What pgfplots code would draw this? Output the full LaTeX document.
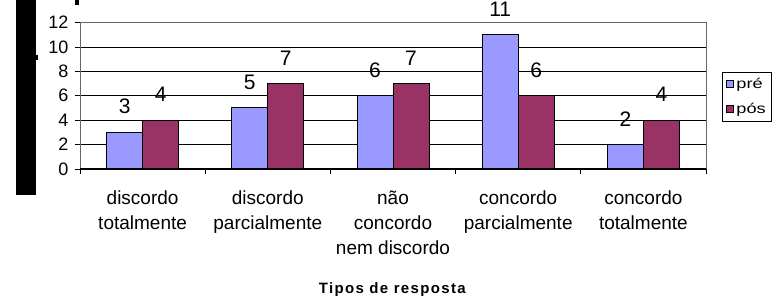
\documentclass[border=0pt]{standalone}
\usepackage{pgfplots}
\pgfplotsset{compat=1.18}
\usepackage{fontspec}
\setmainfont{Liberation Sans}
\newfontfamily\legfont[FakeStretch=1.3]{Liberation Sans}
\definecolor{pre}{HTML}{9999FF}
\definecolor{pos}{HTML}{993366}
\begin{document}
\begin{tikzpicture}[x=1pt,y=1pt]
\useasboundingbox (0,0) rectangle (778,296);
\clip (0,0) rectangle (778,296);
\fill[black] (16,101) rectangle (36,296);
\fill[black] (36,236) rectangle (37.5,241);
\fill[black] (75,291) rectangle (79,296);
\begin{axis}[
  at={(80pt,127pt)}, anchor=south west,
  scale only axis, width=626pt, height=146.5pt,
  ybar=0pt, bar width=36pt,
  xmin=-0.5, xmax=4.5, ymin=0, ymax=12,
  ytick={0,2,4,6,8,10,12},
  xtick={-0.5,0.5,1.5,2.5,3.5,4.5},
  x tick label as interval,
  xticklabels={{discordo\\totalmente},{discordo\\parcialmente},{não\\concordo\\nem discordo},{concordo\\parcialmente},{concordo\\totalmente},{}},
  xticklabel style={align=center, font=\fontsize{19}{25}\selectfont, yshift=-13pt},
  yticklabel style={font=\fontsize{18}{18}\selectfont, xshift=-3pt},
  /pgf/number format/assume math mode=true,
  tick align=outside, xtick pos=bottom, ytick pos=left,
  major tick length=5pt,
  tick style={black, line width=0.8pt},
  ymajorgrids, grid style={black, line width=0.8pt},
  axis line style={draw=gray!80!black, line width=1pt},
  xlabel={\addfontfeatures{LetterSpace=9}\textbf{Tipos de resposta}},
  xlabel style={font=\fontsize{15}{15}\selectfont, at={(rel axis cs:0.5,0)}, anchor=north, yshift=-110pt},
  nodes near coords,
  nodes near coords style={font=\fontsize{21}{21}\selectfont, anchor=south, inner sep=0pt, yshift=18pt},
  legend style={at={(rel axis cs:1.0256,0.662)}, anchor=north west, draw=black, line width=0.8pt,
    font=\legfont\fontsize{14}{14}\selectfont, inner sep=4pt, row sep=9pt, cells={anchor=west}},
  legend image code/.code={\draw[#1, line width=1pt] (0pt,-3.5pt) rectangle (7pt,3.5pt);},
]
\addplot[fill=pre, draw=black, line width=1pt] coordinates {(0,3) (1,5) (2,6) (3,11) (4,2)};
\addplot[fill=pos, draw=black, line width=1pt] coordinates {(0,4) (1,7) (2,7) (3,6) (4,4)};
\legend{pré, pós}
\draw[black, line width=1pt] (axis cs:-0.5,0) -- (axis cs:4.5,0);
\end{axis}
\end{tikzpicture}
\end{document}
